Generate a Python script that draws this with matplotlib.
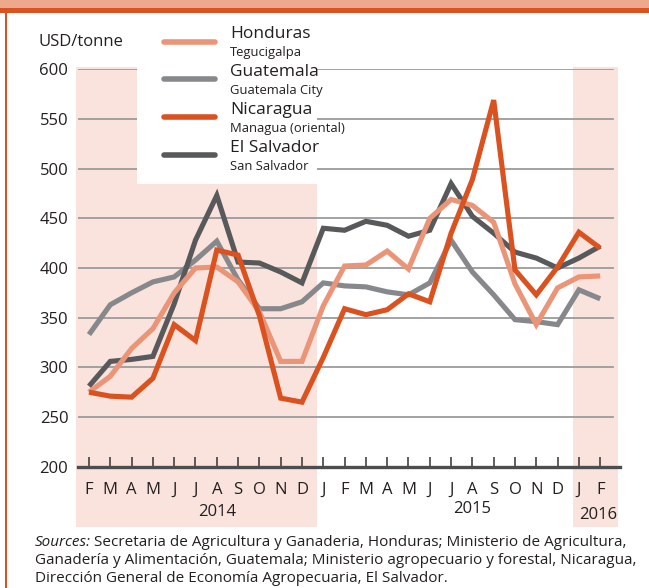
import numpy as np
import matplotlib
matplotlib.use("Agg")
import matplotlib.pyplot as plt
from matplotlib.lines import Line2D
from matplotlib.patches import Rectangle

plt.rcParams['font.family'] = ['Open Sans', 'DejaVu Sans']

months = ["F", "M", "A", "M", "J", "J", "A", "S", "O", "N", "D",
          "J", "F", "M", "A", "M", "J", "J", "A", "S", "O", "N", "D",
          "J", "F"]
years = ["2014", "2015", "2016"]
year_pos = [6.0, 18.0, 23.9]

honduras = [275, 291, 319, 339, 375, 400, 401, 386, 356, 306, 306, 362, 402,
            403, 417, 399, 450, 469, 463, 446, 384, 343, 380, 391, 392]
guatemala = [333, 363, 375, 386, 391, 408, 427, 388, 359, 359, 366, 385, 382,
             381, 376, 373, 385, 428, 396, 373, 348, 346, 343, 378, 369]
nicaragua = [275, 271, 270, 289, 343, 327, 418, 413, 352, 269, 265, 310, 359,
             353, 358, 374, 366, 435, 489, 569, 398, 373, 401, 436, 420]
el_salvador = [281, 306, 308, 311, 364, 428, 473, 406, 405, 396, 385, 440, 438,
               447, 443, 432, 438, 485, 452, 435, 416, 410, 400, 410, 422]

series = [
    ("Honduras", "Tegucigalpa", honduras, "#EA9577"),
    ("Guatemala", "Guatemala City", guatemala, "#87888B"),
    ("Nicaragua", "Managua (oriental)", nicaragua, "#DA5220"),
    ("El Salvador", "San Salvador", el_salvador, "#58595B"),
]
draw_order = [1, 3, 0, 2]

TXT = "#231F20"
SHADE = "#F9E3DC"
W, H = 649, 588

fig = plt.figure(figsize=(W / 100, H / 100), dpi=100)
fig.patch.set_facecolor("white")

ax_l, ax_r, ax_t, ax_b = 78, 620, 69.3, 466.7
ax = fig.add_axes([ax_l / W, 1 - ax_b / H, (ax_r - ax_l) / W, (ax_b - ax_t) / H])
ax.set_facecolor("none")

x = np.arange(len(months))
ax.set_xlim(-0.516, 24.93)
ax.set_ylim(200, 600)

# shaded years
for a, b in [(-0.61, 10.7), (22.74, 24.82)]:
    r = ax.axvspan(a, b, ymin=-0.152, ymax=1.006, color=SHADE, lw=0, zorder=0)
    r.set_clip_on(False)

# gridlines
for v in range(250, 601, 50):
    ax.axhline(v, xmin=0, xmax=(613 - ax_l) / (ax_r - ax_l), color="#9B9B9B",
               lw=1.3, zorder=1)

for i in draw_order:
    name, sub, vals, col = series[i]
    ax.plot(x, vals, color=col, lw=3.7, solid_joinstyle="miter",
            solid_capstyle="butt", zorder=3)

for s in ["top", "right", "left"]:
    ax.spines[s].set_visible(False)
ax.spines["bottom"].set_color("#4D4D4D")
ax.spines["bottom"].set_linewidth(2.4)
ax.spines["bottom"].set_zorder(4)

ax.set_xticks(x)
ax.set_xticklabels(months)
ax.tick_params(axis="x", direction="in", length=7, width=1.1, color="#333333",
               pad=11, labelsize=12, labelcolor=TXT)
ax.set_yticks(range(200, 601, 50))
ax.tick_params(axis="y", length=0, pad=7, labelsize=12, labelcolor=TXT)

year_y = [512, 509, 515]
for yr, p, py in zip(years, year_pos, year_y):
    ax.text(p, (ax_b - py) / (ax_b - ax_t), yr, transform=ax.get_xaxis_transform(),
            ha="center", va="center", fontsize=12, color=TXT)

fig.text(38 / W, 1 - 42 / H, "USD/tonne", fontsize=12, color=TXT,
         ha="left", va="center")

# legend
fig.add_artist(Rectangle((137 / W, 1 - 184 / H), (317 - 137) / W, (184 - 62) / H,
                         transform=fig.transFigure, facecolor="white",
                         edgecolor="none", zorder=2))
ly = [41.7, 79.3, 117.3, 155.0]
for (name, sub, vals, col), yy in zip(series, ly):
    fig.add_artist(Line2D([164 / W, 215 / W], [1 - yy / H] * 2, lw=4,
                          color=col, solid_capstyle="round",
                          transform=fig.transFigure, zorder=3))
    fig.text(230 / W, 1 - (yy - 7.5) / H, name, fontsize=12.5, color=TXT,
             ha="left", va="center", zorder=3)
    fig.text(230 / W, 1 - (yy + 11) / H, sub, fontsize=9.4, color=TXT,
             ha="left", va="center", zorder=3)

# sources
src_lines = [
    "Secretaria de Agricultura y Ganaderia, Honduras; Ministerio de Agricultura,",
    "Ganadería y Alimentación, Guatemala; Ministerio agropecuario y forestal, Nicaragua,",
    "Dirección General de Economía Agropecuaria, El Salvador.",
]
FS = 11.0
t0 = fig.text(35 / W, 1 - 542 / H, "Sources:", fontsize=FS, style="italic",
              color=TXT, ha="left", va="center")
fig.canvas.draw()
bb = t0.get_window_extent()
fig.text((bb.x1 + 3) / W, 1 - 542 / H, src_lines[0], fontsize=FS, color=TXT,
         ha="left", va="center")
fig.text(35 / W, 1 - 561 / H, src_lines[1], fontsize=FS, color=TXT,
         ha="left", va="center")
fig.text(35 / W, 1 - 579 / H, src_lines[2], fontsize=FS, color=TXT,
         ha="left", va="center")

# frame decoration
fig.add_artist(Rectangle((0, 1 - 8.3 / H), 1, 8.3 / H, transform=fig.transFigure,
                         facecolor="#EDA88D", edgecolor="none", zorder=5))
fig.add_artist(Rectangle((0, 1 - 12.5 / H), 1, 4.2 / H, transform=fig.transFigure,
                         facecolor="#DA5220", edgecolor="none", zorder=5))
fig.add_artist(Rectangle((4.8 / W, 0), 2.6 / W, 1 - 12 / H, transform=fig.transFigure,
                         facecolor="#DA5220", edgecolor="none", zorder=5))

fig.savefig("out.png", dpi=100)
